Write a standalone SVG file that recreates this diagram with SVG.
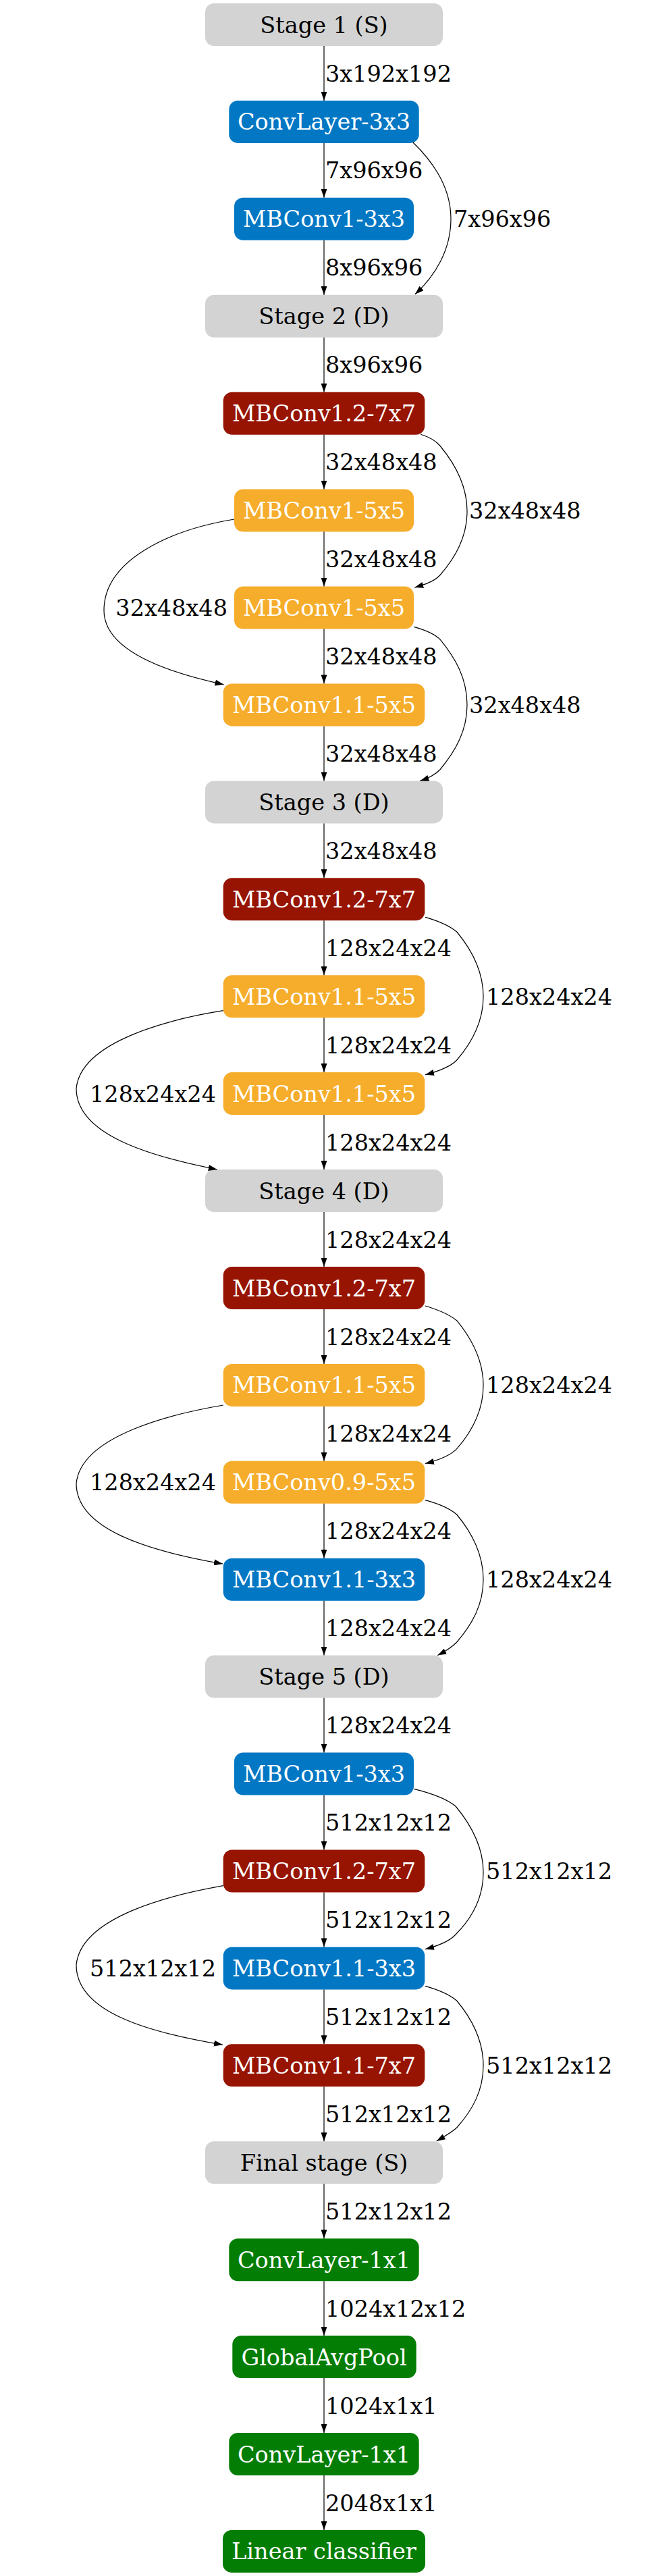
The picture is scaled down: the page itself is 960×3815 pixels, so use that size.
<svg xmlns="http://www.w3.org/2000/svg" width="960" height="3815" viewBox="0 0 960 3815">
<defs>
<marker id="ah" viewBox="0 0 13 9" refX="13" refY="4.5" markerWidth="13" markerHeight="9" markerUnits="userSpaceOnUse" orient="auto"><path d="M0,0 L13,4.5 L0,9 z" fill="#000"/></marker>
<style>
text{font-family:"DejaVu Serif","Liberation Serif",serif;font-size:33.5px}
.nt{fill:#fff;text-anchor:middle}
.st .nt{fill:#000}
.lb{fill:#000}
.le{fill:#000;text-anchor:end}
.st rect{fill:#d3d3d3}
.bl rect{fill:#0277c4}
.rd rect{fill:#961401}
.or rect{fill:#f6ad2b}
.gr rect{fill:#047d04}
#edges path{fill:none;stroke:#000;stroke-width:1.2;marker-end:url(#ah)}
</style>
</defs>
<rect width="960" height="3815" fill="#fff"/>
<g id="nodes">
<g id="n0" class="st"><rect x="304" y="5" width="352" height="63" rx="13"/><text class="nt" x="480" y="48.5">Stage 1 (S)</text></g>
<g id="n1" class="bl"><rect x="339.3" y="148.9" width="281.4" height="63" rx="13"/><text class="nt" x="480" y="192.4">ConvLayer-3x3</text></g>
<g id="n2" class="bl"><rect x="347" y="292.8" width="266" height="63" rx="13"/><text class="nt" x="480" y="336.3">MBConv1-3x3</text></g>
<g id="n3" class="st"><rect x="304" y="436.8" width="352" height="63" rx="13"/><text class="nt" x="480" y="480.3">Stage 2 (D)</text></g>
<g id="n4" class="rd"><rect x="330.7" y="580.7" width="298.6" height="63" rx="13"/><text class="nt" x="480" y="624.2">MBConv1.2-7x7</text></g>
<g id="n5" class="or"><rect x="347" y="724.6" width="266" height="63" rx="13"/><text class="nt" x="480" y="768.1">MBConv1-5x5</text></g>
<g id="n6" class="or"><rect x="347" y="868.5" width="266" height="63" rx="13"/><text class="nt" x="480" y="912">MBConv1-5x5</text></g>
<g id="n7" class="or"><rect x="330.7" y="1012.4" width="298.6" height="63" rx="13"/><text class="nt" x="480" y="1055.9">MBConv1.1-5x5</text></g>
<g id="n8" class="st"><rect x="304" y="1156.4" width="352" height="63" rx="13"/><text class="nt" x="480" y="1199.9">Stage 3 (D)</text></g>
<g id="n9" class="rd"><rect x="330.7" y="1300.3" width="298.6" height="63" rx="13"/><text class="nt" x="480" y="1343.8">MBConv1.2-7x7</text></g>
<g id="n10" class="or"><rect x="330.7" y="1444.2" width="298.6" height="63" rx="13"/><text class="nt" x="480" y="1487.7">MBConv1.1-5x5</text></g>
<g id="n11" class="or"><rect x="330.7" y="1588.1" width="298.6" height="63" rx="13"/><text class="nt" x="480" y="1631.6">MBConv1.1-5x5</text></g>
<g id="n12" class="st"><rect x="304" y="1732" width="352" height="63" rx="13"/><text class="nt" x="480" y="1775.5">Stage 4 (D)</text></g>
<g id="n13" class="rd"><rect x="330.7" y="1876" width="298.6" height="63" rx="13"/><text class="nt" x="480" y="1919.5">MBConv1.2-7x7</text></g>
<g id="n14" class="or"><rect x="330.7" y="2019.9" width="298.6" height="63" rx="13"/><text class="nt" x="480" y="2063.4">MBConv1.1-5x5</text></g>
<g id="n15" class="or"><rect x="330.7" y="2163.8" width="298.6" height="63" rx="13"/><text class="nt" x="480" y="2207.3">MBConv0.9-5x5</text></g>
<g id="n16" class="bl"><rect x="330.7" y="2307.7" width="298.6" height="63" rx="13"/><text class="nt" x="480" y="2351.2">MBConv1.1-3x3</text></g>
<g id="n17" class="st"><rect x="304" y="2451.6" width="352" height="63" rx="13"/><text class="nt" x="480" y="2495.1">Stage 5 (D)</text></g>
<g id="n18" class="bl"><rect x="347" y="2595.6" width="266" height="63" rx="13"/><text class="nt" x="480" y="2639.1">MBConv1-3x3</text></g>
<g id="n19" class="rd"><rect x="330.7" y="2739.5" width="298.6" height="63" rx="13"/><text class="nt" x="480" y="2783">MBConv1.2-7x7</text></g>
<g id="n20" class="bl"><rect x="330.7" y="2883.4" width="298.6" height="63" rx="13"/><text class="nt" x="480" y="2926.9">MBConv1.1-3x3</text></g>
<g id="n21" class="rd"><rect x="330.7" y="3027.3" width="298.6" height="63" rx="13"/><text class="nt" x="480" y="3070.8">MBConv1.1-7x7</text></g>
<g id="n22" class="st"><rect x="304" y="3171.2" width="352" height="63" rx="13"/><text class="nt" x="480" y="3214.7">Final stage (S)</text></g>
<g id="n23" class="gr"><rect x="339.3" y="3315.2" width="281.4" height="63" rx="13"/><text class="nt" x="480" y="3358.7">ConvLayer-1x1</text></g>
<g id="n24" class="gr"><rect x="344.3" y="3459.1" width="272.4" height="63" rx="13"/><text class="nt" x="480" y="3502.6">GlobalAvgPool</text></g>
<g id="n25" class="gr"><rect x="339.3" y="3603" width="281.4" height="63" rx="13"/><text class="nt" x="480" y="3646.5">ConvLayer-1x1</text></g>
<g id="n26" class="gr"><rect x="330" y="3746.9" width="300" height="63" rx="13"/><text class="nt" x="480" y="3790.4">Linear classifier</text></g>
</g>
<g id="edges">
<path d="M480,68 V148.9"/>
<path d="M480,211.9 V292.8"/>
<path d="M480,355.8 V436.8"/>
<path d="M480,499.8 V580.7"/>
<path d="M480,643.7 V724.6"/>
<path d="M480,787.6 V868.5"/>
<path d="M480,931.5 V1012.4"/>
<path d="M480,1075.4 V1156.4"/>
<path d="M480,1219.4 V1300.3"/>
<path d="M480,1363.3 V1444.2"/>
<path d="M480,1507.2 V1588.1"/>
<path d="M480,1651.1 V1732"/>
<path d="M480,1795 V1876"/>
<path d="M480,1939 V2019.9"/>
<path d="M480,2082.9 V2163.8"/>
<path d="M480,2226.8 V2307.7"/>
<path d="M480,2370.7 V2451.6"/>
<path d="M480,2514.6 V2595.6"/>
<path d="M480,2658.6 V2739.5"/>
<path d="M480,2802.5 V2883.4"/>
<path d="M480,2946.4 V3027.3"/>
<path d="M480,3090.3 V3171.2"/>
<path d="M480,3234.2 V3315.2"/>
<path d="M480,3378.2 V3459.1"/>
<path d="M480,3522.1 V3603"/>
<path d="M480,3666 V3746.9"/>
<path d="M611.7,210.7 C640,238 668,275 668,324 C668,370 645,408 615,435.8"/>
<path d="M623.3,643.3 C635,647 645,652 651.7,660 C675,688 692,720 692,757 C692,795 675,825 651.7,852 C642,862 628,866 614.3,870"/>
<path d="M347,769 C250,785 154,830 154,904 C154,960 235,993 331.5,1013.8"/>
<path d="M613.3,928.3 C630,933 643,938 651.7,946.7 C675,975 692,1005 692,1044 C692,1082 675,1112 651.7,1140 C645,1147 636,1152 622.4,1156.4"/>
<path d="M630,1358.3 C650,1364 666,1371 676.7,1380 C700,1408 716,1440 716,1476 C716,1513 700,1543 676.7,1570 C666,1581 648,1587 630,1591.7"/>
<path d="M330.7,1496.7 C260,1508 120,1540 113,1612 C113,1680 220,1712 321.7,1732"/>
<path d="M630,1934 C650,1940 666,1947 676.7,1955.7 C700,1984 716,2016 716,2051.7 C716,2089 700,2119 676.7,2145.7 C666,2157 648,2163 630,2167.4"/>
<path d="M330.7,2081 C260,2093 120,2125 113,2197 C113,2265 220,2297 330,2316"/>
<path d="M630,2221.7 C650,2227 666,2234 676.7,2243 C700,2271 716,2303 716,2339 C716,2376 700,2405 676.7,2432 C669,2440 661,2445 648.3,2451.5"/>
<path d="M613.3,2649.3 C640,2656 662,2664 675,2675 C700,2705 716,2737 716,2773 C716,2810 700,2840 675,2865 C665,2876 648,2882 630,2886.7"/>
<path d="M330.7,2792.7 C260,2805 120,2837 113,2910 C113,2980 220,3010 330,3028.3"/>
<path d="M630,2941.4 C650,2947 666,2954 676.7,2963 C700,2991 716,3023 716,3059 C716,3096 700,3125 676.7,3151 C669,3158 662,3162 646.7,3171"/>
</g>
<g id="labels">
<text class="lb" x="482" y="120.5">3x192x192</text>
<text class="lb" x="482" y="264.4">7x96x96</text>
<text class="lb" x="482" y="408.3">8x96x96</text>
<text class="lb" x="482" y="552.3">8x96x96</text>
<text class="lb" x="482" y="696.2">32x48x48</text>
<text class="lb" x="482" y="840.1">32x48x48</text>
<text class="lb" x="482" y="984">32x48x48</text>
<text class="lb" x="482" y="1127.9">32x48x48</text>
<text class="lb" x="482" y="1271.9">32x48x48</text>
<text class="lb" x="482" y="1415.8">128x24x24</text>
<text class="lb" x="482" y="1559.7">128x24x24</text>
<text class="lb" x="482" y="1703.6">128x24x24</text>
<text class="lb" x="482" y="1847.5">128x24x24</text>
<text class="lb" x="482" y="1991.5">128x24x24</text>
<text class="lb" x="482" y="2135.4">128x24x24</text>
<text class="lb" x="482" y="2279.3">128x24x24</text>
<text class="lb" x="482" y="2423.2">128x24x24</text>
<text class="lb" x="482" y="2567.1">128x24x24</text>
<text class="lb" x="482" y="2711.1">512x12x12</text>
<text class="lb" x="482" y="2855">512x12x12</text>
<text class="lb" x="482" y="2998.9">512x12x12</text>
<text class="lb" x="482" y="3142.8">512x12x12</text>
<text class="lb" x="482" y="3286.7">512x12x12</text>
<text class="lb" x="482" y="3430.7">1024x12x12</text>
<text class="lb" x="482" y="3574.6">1024x1x1</text>
<text class="lb" x="482" y="3718.5">2048x1x1</text>
<text class="lb" x="672" y="336.3">7x96x96</text>
<text class="lb" x="695" y="768.1">32x48x48</text>
<text class="le" x="337" y="912">32x48x48</text>
<text class="lb" x="695" y="1055.9">32x48x48</text>
<text class="lb" x="720" y="1487.7">128x24x24</text>
<text class="le" x="320" y="1631.6">128x24x24</text>
<text class="lb" x="720" y="2063.4">128x24x24</text>
<text class="le" x="320" y="2207.3">128x24x24</text>
<text class="lb" x="720" y="2351.2">128x24x24</text>
<text class="lb" x="720" y="2783">512x12x12</text>
<text class="le" x="320" y="2926.9">512x12x12</text>
<text class="lb" x="720" y="3070.8">512x12x12</text>
</g>
</svg>
